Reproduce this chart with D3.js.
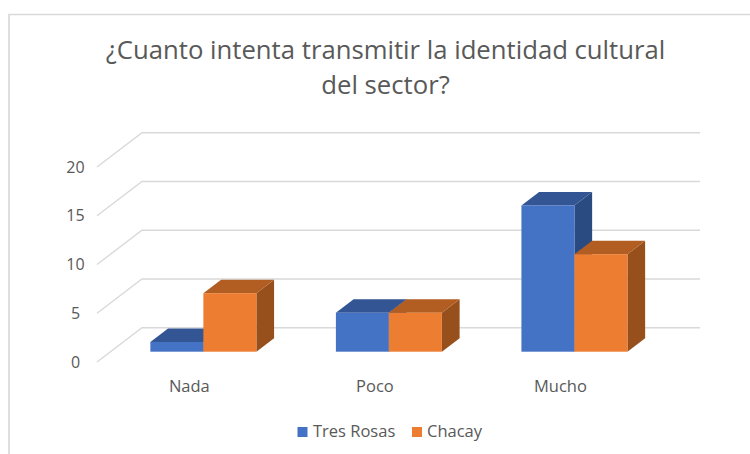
<!DOCTYPE html>
<html><head><meta charset="utf-8">
<script src="https://cdnjs.cloudflare.com/ajax/libs/d3/7.8.5/d3.min.js"></script>
<style>html,body{margin:0;padding:0;background:#fff}svg{display:block}text{font-family:"Open Sans",sans-serif;fill:#595959}</style>
</head><body><script>
const categories = ["Nada", "Poco", "Mucho"];
const seriesNames = ["Tres Rosas", "Chacay"];
const tresRosas = [1, 4, 15];
const chacay = [6, 4, 10];
const yTicks = [0, 5, 10, 15, 20];
const titleLines = ["¿Cuanto intenta transmitir la identidad cultural", "del sector?"];
const palette = {
  "Tres Rosas": {front: "#4472c4", top: "#335593", side: "#2a4a82"},
  "Chacay": {front: "#ed7d31", top: "#b25d21", side: "#97501c"}
};
const values = {"Tres Rosas": tresRosas, "Chacay": chacay};

const W = 750, H = 454;
const svg = d3.select("body").append("svg").attr("width", W).attr("height", H);
svg.append("rect").attr("width", W).attr("height", H).attr("fill", "#fff");
svg.append("path").attr("d", "M9 454V14.5H750").attr("fill", "none").attr("stroke", "#d9d9d9").attr("stroke-width", 1.7);

const h = d3.scaleLinear().domain([0, 20]).range([0, 195]);
const x0 = d3.scaleBand().domain(categories).range([110.6, 667.2]).paddingInner(0.4286).paddingOuter(0.2143);
const x1 = d3.scaleBand().domain(seriesNames).range([0, x0.bandwidth()]);
const floorBack = 327.7, floorFront = 362, backLeft = 142, backRight = 700, frontLeft = 97;
const barBase = 351.7, depthX = 17.7, depthY = 13.5;

const grid = svg.append("g");
yTicks.forEach(t => {
  const hh = h(t);
  grid.append("path")
    .attr("d", `M${frontLeft} ${floorFront - hh}L${backLeft} ${floorBack - hh}H${backRight}`)
    .attr("fill", "none").attr("stroke", "#d9d9d9").attr("stroke-width", 1.4);
});

categories.forEach((c, i) => {
  seriesNames.forEach(s => {
    const v = values[s][i];
    const x = x0(c) + x1(s), w = x1.bandwidth(), top = barBase - h(v);
    const p = palette[s];
    const g = svg.append("g");
    g.append("path").attr("fill", p.side)
      .attr("d", `M${x + w} ${top}l${depthX} ${-depthY}V${barBase - depthY}L${x + w} ${barBase}Z`);
    g.append("path").attr("fill", p.top)
      .attr("d", `M${x} ${top}l${depthX} ${-depthY}h${w}l${-depthX} ${depthY}Z`);
    g.append("rect").attr("x", x).attr("y", top).attr("width", w).attr("height", h(v)).attr("fill", p.front);
  });
});

yTicks.forEach(t => {
  svg.append("text").attr("x", 75.5).attr("y", floorFront - h(t) + 5.5).attr("text-anchor", "middle")
    .attr("font-size", 16).text(t);
});
categories.forEach(c => {
  svg.append("text").attr("x", x0(c) + x0.bandwidth() / 2 - 14).attr("y", 392).attr("text-anchor", "middle")
    .attr("font-size", 16.5).text(c);
});
titleLines.forEach((t, i) => {
  svg.append("text").attr("x", 385.5).attr("y", 59 + i * 34.5).attr("text-anchor", "middle")
    .attr("font-size", 25.7).text(t);
});
const legend = [[297.5, 313], [412, 427]];
seriesNames.forEach((s, i) => {
  svg.append("rect").attr("x", legend[i][0]).attr("y", 427).attr("width", 10).attr("height", 10).attr("fill", palette[s].front);
  svg.append("text").attr("x", legend[i][1]).attr("y", 437).attr("font-size", 16.5).text(s);
});
</script></body></html>
